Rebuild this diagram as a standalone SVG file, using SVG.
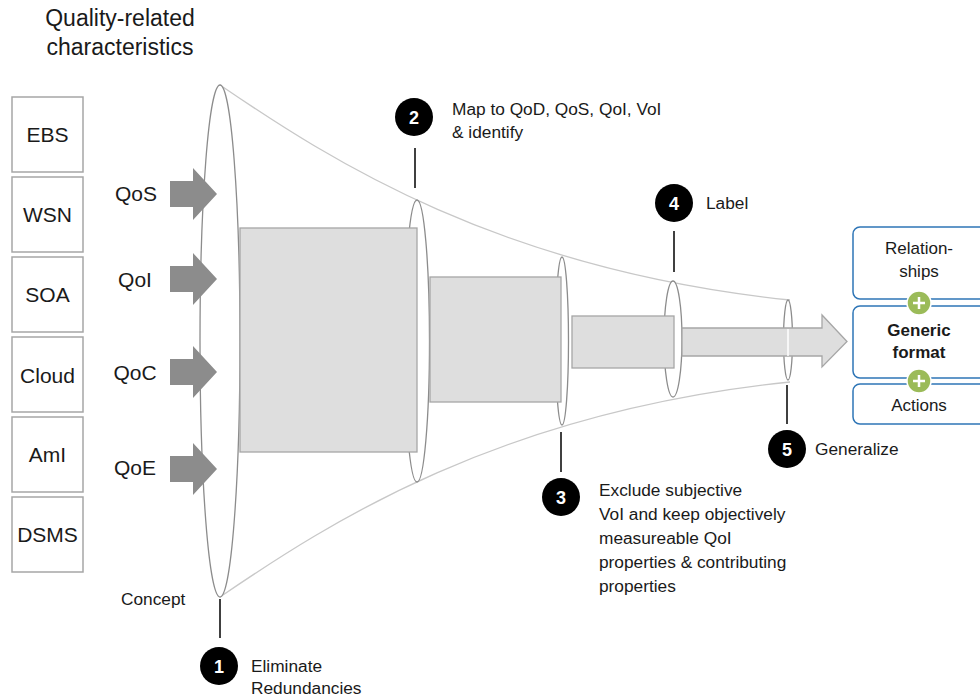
<svg xmlns="http://www.w3.org/2000/svg" width="980" height="697" viewBox="0 0 980 697">
<style>
text{font-family:"Liberation Sans",Arial,sans-serif;fill:#1a1a1a}
.src{fill:#fff;stroke:#a6a6a6;stroke-width:1.5}
.src-t{font-size:21px;text-anchor:middle}
.q{font-size:21px;text-anchor:middle}
.ttl{font-size:23px;text-anchor:middle}
.garr{fill:#8c8c8c}
.funnel{fill:none;stroke:#c8c8c8;stroke-width:1.3}
.ell{fill:#fff;stroke:#8c8c8c;stroke-width:1.3}
.bar{fill:#dedede;stroke:#a6a6a6;stroke-width:1.3}
.num{fill:#000}
.num-t{fill:#fff;font-size:18px;font-weight:bold;text-anchor:middle}
.lead{stroke:#000;stroke-width:1.5}
.lbl{font-size:17.3px}
.box{fill:#fff;stroke:#2e75b6;stroke-width:1.5}
.box-t{font-size:17px;text-anchor:middle}
.plus{fill:#9bbb59;stroke:#fff;stroke-width:1.5}
</style>

<g id="title">
<text x="120" y="26" class="ttl">Quality-related</text>
<text x="120" y="55" class="ttl">characteristics</text>
</g>

<g id="sources">
<g id="n-ebs"><rect class="src" x="12" y="97" width="71" height="75"/><text class="src-t" x="47.5" y="142">EBS</text></g>
<g id="n-wsn"><rect class="src" x="12" y="177" width="71" height="75"/><text class="src-t" x="47.5" y="222">WSN</text></g>
<g id="n-soa"><rect class="src" x="12" y="257" width="71" height="75"/><text class="src-t" x="47.5" y="302">SOA</text></g>
<g id="n-cloud"><rect class="src" x="12" y="337" width="71" height="75"/><text class="src-t" x="47.5" y="383">Cloud</text></g>
<g id="n-ami"><rect class="src" x="12" y="417" width="71" height="75"/><text class="src-t" x="47.5" y="462">AmI</text></g>
<g id="n-dsms"><rect class="src" x="12" y="497" width="71" height="75"/><text class="src-t" x="47.5" y="542">DSMS</text></g>
</g>

<g id="funnel">
<path class="funnel" d="M220,85 C330,160 500,270 790,300"/>
<path class="funnel" d="M220,597 C330,522 500,412 790,382"/>
<ellipse class="ell" cx="220" cy="341" rx="20" ry="256"/>
<ellipse class="ell" cx="417" cy="341" rx="12.5" ry="141"/>
<rect class="bar" x="240" y="228" width="177" height="224"/>
<ellipse class="ell" cx="562" cy="341" rx="6.5" ry="84"/>
<rect class="bar" x="430" y="277" width="131" height="125"/>
<ellipse class="ell" cx="673" cy="339" rx="9" ry="58"/>
<rect class="bar" x="572" y="316" width="102" height="52"/>
<ellipse class="ell" cx="788" cy="340" rx="4.5" ry="40"/>
<path class="bar" d="M682,328 H822 V315 L847,341.5 L822,367 V356 H682 Z"/>
<line x1="788" y1="329" x2="788" y2="356" stroke="#fff" stroke-width="1.5"/>
</g>

<g id="inputs">
<g id="n-qos"><text class="q" x="136" y="201">QoS</text><path class="garr" d="M170,181 H193 V168 L217,194 L193,220 V207 H170 Z"/></g>
<g id="n-qoi"><text class="q" x="135" y="287">QoI</text><path class="garr" d="M170,266 H193 V253 L217,279 L193,305 V292 H170 Z"/></g>
<g id="n-qoc"><text class="q" x="135" y="380">QoC</text><path class="garr" d="M170,359 H193 V346 L217,372 L193,398 V385 H170 Z"/></g>
<g id="n-qoe"><text class="q" x="135" y="475">QoE</text><path class="garr" d="M170,456 H193 V443 L217,469 L193,495 V482 H170 Z"/></g>
</g>

<g id="connectors">
<line class="lead" x1="220" y1="599" x2="220" y2="638"/>
<line class="lead" x1="415" y1="148" x2="415" y2="188"/>
<line class="lead" x1="561" y1="432" x2="561" y2="472"/>
<line class="lead" x1="674" y1="231" x2="674" y2="272"/>
<line class="lead" x1="787" y1="385" x2="787" y2="424"/>
</g>

<text class="lbl" x="121" y="605">Concept</text>

<g id="step1"><circle class="num" cx="219" cy="666" r="19"/><text class="num-t" x="219" y="672.5">1</text>
<text class="lbl" x="251" y="672">Eliminate</text><text class="lbl" x="251" y="694">Redundancies</text></g>
<g id="step2"><circle class="num" cx="414" cy="117" r="19"/><text class="num-t" x="414" y="123.5">2</text>
<text class="lbl" x="452" y="115">Map to QoD, QoS, QoI, VoI</text><text class="lbl" x="452" y="138">&amp; identify</text></g>
<g id="step3"><circle class="num" cx="561" cy="497" r="19"/><text class="num-t" x="561" y="503.5">3</text>
<text class="lbl" x="599" y="496">Exclude subjective</text>
<text class="lbl" x="599" y="520">VoI and keep objectively</text>
<text class="lbl" x="599" y="544">measureable QoI</text>
<text class="lbl" x="599" y="568">properties &amp; contributing</text>
<text class="lbl" x="599" y="592">properties</text></g>
<g id="step4"><circle class="num" cx="674" cy="203" r="19"/><text class="num-t" x="674" y="209.5">4</text>
<text class="lbl" x="706" y="209">Label</text></g>
<g id="step5"><circle class="num" cx="787" cy="449" r="19"/><text class="num-t" x="787" y="455.5">5</text>
<text class="lbl" x="815" y="455">Generalize</text></g>

<g id="format">
<g id="n-rel"><rect class="box" x="853" y="227" width="140" height="72" rx="7"/><text class="box-t" x="919" y="254">Relation-</text><text class="box-t" x="919" y="277">ships</text></g>
<g id="n-generic"><rect class="box" x="853" y="306" width="140" height="72" rx="7"/><text class="box-t" x="919" y="336" font-weight="bold">Generic</text><text class="box-t" x="919" y="358" font-weight="bold">format</text></g>
<g id="n-actions"><rect class="box" x="853" y="384" width="140" height="40" rx="7"/><text class="box-t" x="919" y="411">Actions</text></g>
<g id="plus1"><circle class="plus" cx="919" cy="303" r="12"/><path d="M913,303 H925 M919,297 V309" stroke="#fff" stroke-width="2.5"/></g>
<g id="plus2"><circle class="plus" cx="919" cy="381" r="12"/><path d="M913,381 H925 M919,375 V387" stroke="#fff" stroke-width="2.5"/></g>
</g>
</svg>
